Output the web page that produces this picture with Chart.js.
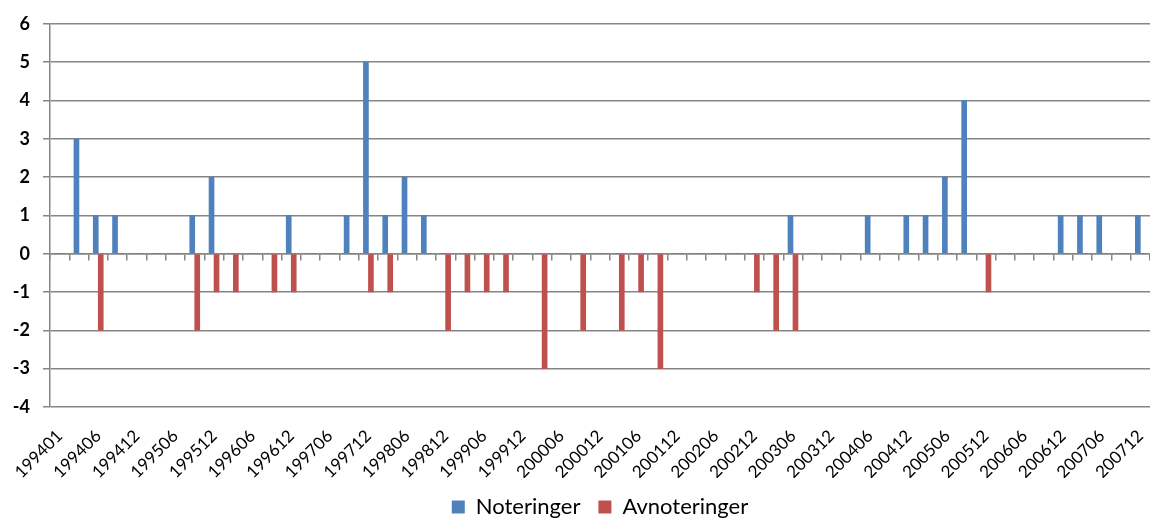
<!DOCTYPE html>
<html lang="no">
<head>
  <meta charset="UTF-8">
  <title>Noteringer og avnoteringer</title>
  <style>
    body {
      margin: 0;
      background: #fff;
    }
    #wrap {
      width: 1150px;
      height: 518px;
    }
  </style>
</head>
<body>
  <div id="wrap"><canvas id="chart" width="1150" height="518"></canvas></div>

  <script src="https://cdn.jsdelivr.net/npm/chart.js"></script>
  <script>
    // kategorier (kvartal), bare annenhver vises på aksen
    const categories = [
      '199401','199403','199406','199409','199412',
      '199503','199506','199509','199512',
      '199603','199606','199609','199612',
      '199703','199706','199709','199712',
      '199803','199806','199809','199812',
      '199903','199906','199909','199912',
      '200003','200006','200009','200012',
      '200103','200106','200109','200112',
      '200203','200206','200209','200212',
      '200303','200306','200309','200312',
      '200403','200406','200409','200412',
      '200503','200506','200509','200512',
      '200603','200606','200609','200612',
      '200703','200706','200709','200712'
    ];

    const noteringer = [
      0, 3, 1, 1, 0,
      0, 0, 1, 2,
      0, 0, 0, 1,
      0, 0, 1, 5,
      1, 2, 1, 0,
      0, 0, 0, 0,
      0, 0, 0, 0,
      0, 0, 0, 0,
      0, 0, 0, 0,
      0, 1, 0, 0,
      0, 1, 0, 1,
      1, 2, 4, 0,
      0, 0, 0, 1,
      1, 1, 0, 1
    ];

    const avnoteringer = [
      0, 0, -2, 0, 0,
      0, 0, -2, -1,
      -1, 0, -1, -1,
      0, 0, 0, -1,
      -1, 0, 0, -2,
      -1, -1, -1, 0,
      -3, 0, -2, 0,
      -2, -1, -3, 0,
      0, 0, 0, -1,
      -2, -2, 0, 0,
      0, 0, 0, 0,
      0, 0, 0, -1,
      0, 0, 0, 0,
      0, 0, 0, 0
    ];

    const GRID = '#868686';
    const FONT = 'Lato, "Open Sans", sans-serif';

    new Chart(document.getElementById('chart').getContext('2d'), {
      type: 'bar',
      data: {
        labels: categories,
        datasets: [
          { label: 'Noteringer', data: noteringer, backgroundColor: '#4F81BD', barThickness: 5 },
          { label: 'Avnoteringer', data: avnoteringer, backgroundColor: '#C0504D', barThickness: 5 }
        ]
      },
      options: {
        responsive: false,
        animation: false,
        layout: { padding: { top: 22, right: 0, left: 0, bottom: -10 } },
        plugins: {
          tooltip: { enabled: false },
          legend: {
            position: 'bottom',
            fullSize: false,
            labels: {
              boxWidth: 13,
              boxHeight: 13,
              padding: 18,
              color: '#000',
              font: { family: FONT, size: 22 }
            }
          }
        },
        scales: {
          x: {
            offset: true,
            grid: { display: false, offset: true },
            border: { display: false },
            ticks: {
              autoSkip: false,
              maxRotation: 45,
              minRotation: 45,
              padding: 11,
              color: '#000',
              font: { family: FONT, size: 17 },
              callback: (v, i) => i % 2 === 0 ? categories[i] : ''
            },
            afterFit: s => {
              s.height = 71;
              s.paddingLeft = 0;
              s.paddingRight = 0;
            }
          },
          // nullinjen med små streker mellom kategoriene
          x0: {
            type: 'category',
            position: { y: 0 },
            offset: true,
            ticks: { display: false },
            grid: { offset: true, drawOnChartArea: false, drawTicks: true, tickLength: 6, color: GRID, lineWidth: 1.5 },
            border: { display: true, color: GRID, width: 1.5 }
          },
          y: {
            min: -4,
            max: 6,
            ticks: {
              stepSize: 1,
              padding: 13,
              color: '#000',
              font: { family: FONT, size: 18, weight: 'bold' }
            },
            grid: { color: GRID, lineWidth: 1.5, tickLength: 7 },
            border: { display: true, color: GRID, width: 1.5 },
            afterFit: s => { s.width = 50; }
          }
        }
      }
    });
  </script>
</body>
</html>
